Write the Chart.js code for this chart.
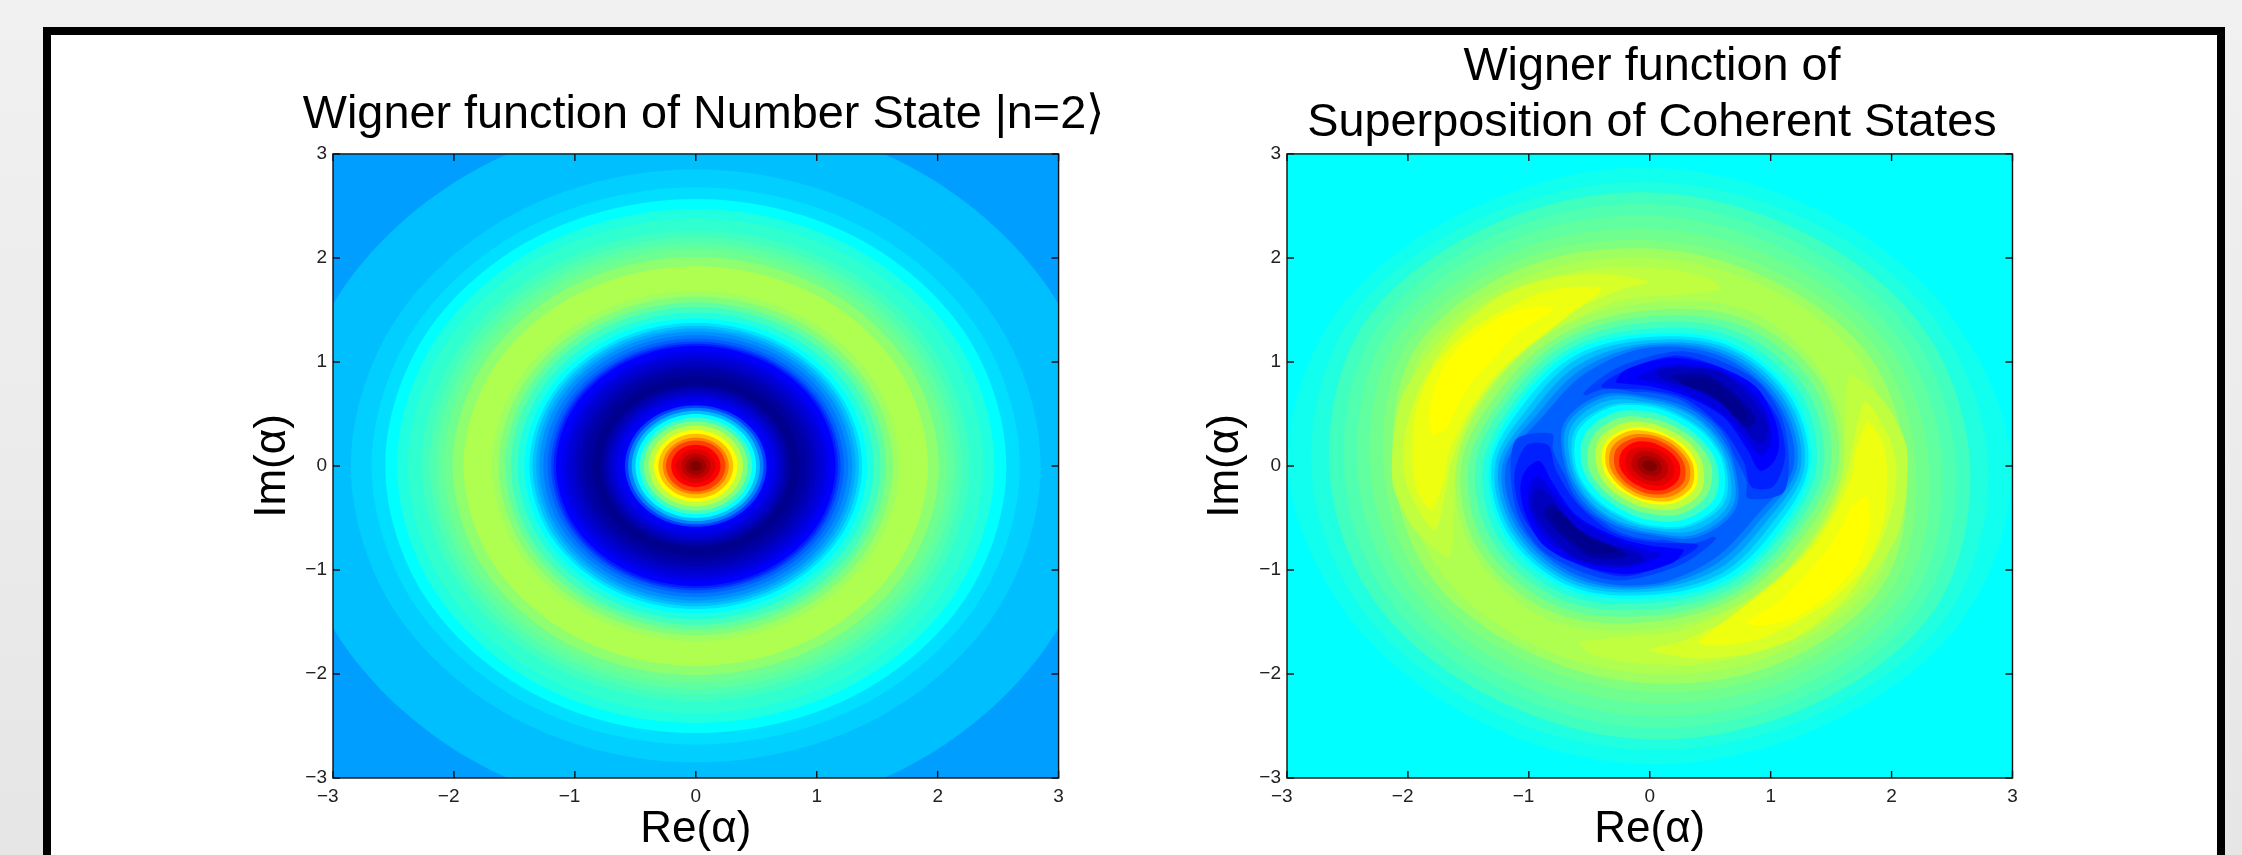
<!DOCTYPE html>
<html>
<head>
<meta charset="utf-8">
<title>Wigner functions</title>
<script src="https://cdn.jsdelivr.net/npm/chart.js@4/dist/chart.umd.js"></script>
<style>
  html, body { margin: 0; height: 100%; overflow: hidden; }
  body { width: 2242px; height: 855px; position: relative; background: linear-gradient(#f1f1f1, #e6e6e6); }
  #frame { position: absolute; left: 43px; top: 27px; width: 2166px; height: 900px; border: 8px solid #000; background: #fff; }
  canvas { position: absolute; top: 0; }
  #numberChart { left: 0; }
  #catChart { left: 1121px; }
</style>
</head>
<body>
<div id="frame"></div>
<canvas id="numberChart" width="1407" height="855"></canvas>
<canvas id="catChart" width="1062" height="855"></canvas>
<script>
const tickValues = [-3, -2, -1, 0, 1, 2, 3];
const tickLabels = ["\u22123", "\u22122", "\u22121", "0", "1", "2", "3"];
const xAxisTitle = "Re(\u03b1)";
const yAxisTitle = "Im(\u03b1)";
const numberTitle = "Wigner function of Number State |n=2\u27e9";
const catTitle = ["Wigner function of", "Superposition of Coherent States"];

// directions (degrees) the contour radii were read along
const ringAngles = [0, 30, 60, 90, 120, 150, 180, 210, 240, 270, 300, 330];

// left panel: circular contours, outermost first
const numberBackground = "#009fff";
const numberRadii = [
  3.38, 2.852, 2.68, 2.568, 2.47, 2.38, 2.265, 2.2, 2.143, 2.08, 2.01, 1.92,
  1.685, 1.63, 1.575, 1.528, 1.473, 1.418, 1.376, 1.349, 1.321, 1.294, 1.26, 1.225,
  1.197, 1.176, 1.156, 1.11, 1.075, 1.04, 1.0, 0.96, 0.92, 0.86,
  0.78, 0.755, 0.73, 0.705, 0.68, 0.655, 0.61, 0.585, 0.56, 0.53, 0.50,
  0.465, 0.43, 0.39, 0.345, 0.31, 0.273, 0.246, 0.204, 0.163, 0.121, 0.086, 0.047,
];
const numberColours = [
  "#00bfff", "#00cfff", "#00dfff", "#00ffff", "#20ffdf", "#30ffcf", "#40ffbf", "#50ffaf", "#60ff9f", "#70ff8f", "#8fff70", "#afff50",
  "#9fff60", "#80ff7f", "#60ff9f", "#40ffbf", "#20ffdf", "#00ffff", "#00dfff", "#00c0ff", "#00a8ff", "#0090ff", "#0078ff", "#0060ff",
  "#0040ff", "#0020ff", "#0000ff", "#0000ef", "#0000df", "#0000cf", "#0000bf", "#0000af", "#00009f", "#00008f",
  "#00009f", "#0000af", "#0000bf", "#0000cf", "#0000df", "#0000ef", "#0000ff", "#0040ff", "#0080ff", "#00bfff", "#00ffff",
  "#40ffbf", "#80ff7f", "#bfff40", "#ffff00", "#ffbf00", "#ff8000", "#ff4000", "#ff0000", "#df0000", "#bf0000", "#9f0000", "#800000",
];

// right panel: the picture repeats under a half turn, so half of each contour is listed
const catBackground = "#00ffff";

// radii at 0, 30, 60, 90, 120, 150 degrees
const catOuterRadii = [
  [2.99, 2.88, 2.83, 2.87, 2.88, 2.98],
  [2.80, 2.75, 2.70, 2.73, 2.76, 2.85],
  [2.65, 2.62, 2.58, 2.63, 2.66, 2.73],
  [2.53, 2.51, 2.47, 2.52, 2.56, 2.62],
  [2.42, 2.40, 2.36, 2.41, 2.46, 2.52],
  [2.31, 2.29, 2.25, 2.28, 2.35, 2.42],
  [2.20, 2.19, 2.14, 2.17, 2.26, 2.32],
  [2.12, 2.10, 2.05, 2.09, 2.18, 2.24],
  [2.03, 2.01, 1.97, 2.00, 2.09, 2.17],
];
const catOuterColours = ["#10ffef", "#20ffdf", "#40ffbf", "#50ffaf", "#60ff9f", "#70ff8f", "#80ff7f", "#9fff60", "#afff50"];

// yellow crescents, upper left one; the lower right one is its half turn
const catYellowLobes = [
  [[0.58, 1.70], [0.50, 1.80], [0.17, 1.89], [-0.38, 1.91], [-0.94, 1.78], [-1.35, 1.57], [-1.76, 1.17], [-2.04, 0.69], [-2.12, 0.28], [-2.12, -0.2], [-1.95, -0.6], [-1.66, -0.88], [-1.62, -0.55], [-1.60, 0], [-1.43, 0.56], [-1.13, 1.01], [-0.8, 1.30], [-0.25, 1.59], [0.28, 1.65]],
  [[0, 1.77], [-0.38, 1.85], [-0.80, 1.81], [-1.21, 1.65], [-1.62, 1.27], [-1.90, 0.76], [-2.02, 0.34], [-2.04, 0], [-1.97, -0.3], [-1.78, -0.62], [-1.68, -0.2], [-1.65, 0], [-1.51, 0.44], [-1.29, 0.82], [-0.96, 1.2], [-0.63, 1.49], [-0.25, 1.69]],
  [[-0.40, 1.70], [-0.66, 1.72], [-0.94, 1.65], [-1.46, 1.33], [-1.79, 0.95], [-1.94, 0.50], [-1.96, 0], [-1.92, -0.25], [-1.80, -0.42], [-1.70, -0.12], [-1.67, 0.1], [-1.52, 0.48], [-1.29, 0.86], [-0.98, 1.17], [-0.68, 1.44]],
  [[-0.80, 1.51], [-0.96, 1.53], [-1.24, 1.43], [-1.51, 1.21], [-1.71, 0.95], [-1.80, 0.66], [-1.82, 0.47], [-1.80, 0.30], [-1.68, 0.37], [-1.60, 0.56], [-1.46, 0.82], [-1.29, 1.04], [-1.07, 1.30]],
];
const catYellowColours = ["#bfff40", "#d7ff28", "#efff10", "#ffff00"];

// edge of the blue basin, radii at 0, 30, 60, 90, 120, 150 degrees
const catBasinRadii = [
  [1.60, 1.68, 1.70, 1.57, 1.52, 1.50],
  [1.56, 1.63, 1.62, 1.50, 1.46, 1.44],
  [1.50, 1.56, 1.55, 1.44, 1.41, 1.38],
  [1.44, 1.49, 1.48, 1.38, 1.36, 1.33],
  [1.38, 1.43, 1.42, 1.32, 1.31, 1.28],
  [1.33, 1.37, 1.36, 1.27, 1.27, 1.24],
  [1.31, 1.34, 1.33, 1.24, 1.23, 1.20],
  [1.28, 1.31, 1.30, 1.21, 1.19, 1.15],
  [1.25, 1.28, 1.27, 1.18, 1.14, 1.10],
  [1.22, 1.25, 1.24, 1.16, 1.09, 1.05],
  [1.19, 1.22, 1.21, 1.14, 1.04, 1.00],
];
const catBasinColours = ["#9fff60", "#80ff7f", "#60ff9f", "#40ffbf", "#20ffdf", "#00ffff", "#00dfff", "#00bfff", "#009fff", "#0080ff", "#0060ff"];

// dark crescents, upper right one; the lower left one is its half turn
const catBlueLobes = [
  [[-0.55, 0.70], [-0.25, 0.955], [0.30, 1.10], [0.85, 0.85], [1.08, 0.50], [1.15, 0.08], [1.10, -0.26], [0.81, -0.31], [0.80, -0.15], [0.70, 0.09], [0.52, 0.38], [0.28, 0.62], [-0.03, 0.71], [-0.47, 0.67]],
  [[-0.4, 0.76], [-0.2, 0.92], [0.25, 1.06], [0.8, 0.82], [1.05, 0.48], [1.12, 0.1], [1.02, -0.2], [0.84, -0.2], [0.78, 0.03], [0.6, 0.36], [0.3, 0.64], [-0.02, 0.73]],
  [[-0.28, 0.81], [-0.19, 0.93], [0.19, 1.04], [0.58, 0.95], [0.88, 0.76], [1.03, 0.46], [1.07, 0.2], [1.02, 0.03], [0.91, -0.045], [0.81, 0.15], [0.61, 0.47], [0.30, 0.67], [0.03, 0.76], [-0.19, 0.79]],
  [[-0.1, 0.85], [0.15, 0.97], [0.55, 0.93], [0.85, 0.72], [0.99, 0.44], [1.0, 0.2], [0.92, 0.1], [0.8, 0.25], [0.6, 0.5], [0.3, 0.70], [0.05, 0.80]],
  [[0.055, 0.91], [0.25, 0.955], [0.58, 0.90], [0.80, 0.70], [0.97, 0.41], [0.94, 0.22], [0.84, 0.27], [0.66, 0.54], [0.39, 0.73], [0.11, 0.83]],
  [[0.18, 0.86], [0.47, 0.88], [0.72, 0.68], [0.88, 0.45], [0.80, 0.37], [0.60, 0.60], [0.36, 0.75]],
  [[0.25, 0.81], [0.47, 0.84], [0.72, 0.63], [0.81, 0.47], [0.74, 0.44], [0.52, 0.68], [0.33, 0.76]],
];
const catBlueColours = ["#0040ff", "#0020ff", "#0000ff", "#0000df", "#0000bf", "#00009f", "#00008f"];

// central peak, radii at 0, 30, 60, 90, 120, 150 degrees
const catPeakRadii = [
  [0.72, 0.68, 0.66, 0.68, 0.84, 0.86],
  [0.70, 0.65, 0.64, 0.66, 0.79, 0.82],
  [0.68, 0.62, 0.61, 0.64, 0.76, 0.79],
  [0.65, 0.60, 0.59, 0.61, 0.72, 0.75],
  [0.63, 0.57, 0.55, 0.59, 0.67, 0.71],
  [0.61, 0.55, 0.53, 0.57, 0.65, 0.68],
  [0.56, 0.50, 0.48, 0.52, 0.59, 0.62],
  [0.51, 0.45, 0.43, 0.46, 0.53, 0.55],
  [0.44, 0.40, 0.38, 0.41, 0.47, 0.49],
  [0.39, 0.35, 0.33, 0.36, 0.41, 0.43],
  [0.36, 0.32, 0.31, 0.33, 0.38, 0.40],
  [0.33, 0.29, 0.28, 0.30, 0.34, 0.36],
  [0.29, 0.26, 0.25, 0.27, 0.30, 0.32],
  [0.25, 0.22, 0.21, 0.23, 0.26, 0.27],
  [0.20, 0.18, 0.17, 0.18, 0.21, 0.22],
  [0.15, 0.13, 0.13, 0.14, 0.16, 0.16],
  [0.10, 0.09, 0.09, 0.09, 0.11, 0.11],
  [0.06, 0.05, 0.05, 0.05, 0.06, 0.06],
];
const catPeakColours = ["#0060ff", "#0080ff", "#00a0ff", "#00bfff", "#00dfff", "#00ffff", "#40ffbf", "#80ff7f", "#bfff40", "#ffff00", "#ffbf00", "#ff8000", "#ff4000", "#ff0000", "#df0000", "#bf0000", "#9f0000", "#800000"];

const FONT = '"Liberation Sans", Arial, sans-serif';

// repeat the first points at the end so the smoothed outline closes without a corner
function closeOutline(points) {
  return points.concat(points.slice(0, 3));
}

function radiiToPoints(radii) {
  return ringAngles.map((deg, i) => {
    const r = radii[i % radii.length];
    const a = deg * Math.PI / 180;
    return { x: r * Math.cos(a), y: r * Math.sin(a) };
  });
}

function contourDataset(points, colour, tension) {
  return {
    data: closeOutline(points),
    showLine: true,
    fill: "shape",
    backgroundColor: colour,
    borderWidth: 0,
    pointRadius: 0,
    tension: tension,
    capBezierPoints: false,
  };
}

function lobePoints(pairs, sign) {
  return pairs.map(([x, y]) => ({ x: sign * x, y: sign * y }));
}

function numberLayers() {
  return numberRadii.map((r, i) => contourDataset(radiiToPoints([r]), numberColours[i], 0.34));
}

function catLayers() {
  const layers = [];
  catOuterRadii.forEach((radii, i) => layers.push(contourDataset(radiiToPoints(radii), catOuterColours[i], 0.34)));
  catYellowLobes.forEach((pairs, i) => {
    layers.push(contourDataset(lobePoints(pairs, 1), catYellowColours[i], 0.25));
    layers.push(contourDataset(lobePoints(pairs, -1), catYellowColours[i], 0.25));
  });
  catBasinRadii.forEach((radii, i) => layers.push(contourDataset(radiiToPoints(radii), catBasinColours[i], 0.34)));
  catBlueLobes.forEach((pairs, i) => {
    layers.push(contourDataset(lobePoints(pairs, 1), catBlueColours[i], 0.3));
    layers.push(contourDataset(lobePoints(pairs, -1), catBlueColours[i], 0.3));
  });
  catPeakRadii.forEach((radii, i) => layers.push(contourDataset(radiiToPoints(radii), catPeakColours[i], 0.34)));
  return layers;
}

// background under the contours, box and inward ticks on all four sides
function plotFrame(background) {
  return {
    id: "plotFrame",
    beforeDatasetsDraw(chart) {
      const { ctx, chartArea: a } = chart;
      ctx.save();
      ctx.fillStyle = background;
      ctx.fillRect(a.left, a.top, a.right - a.left, a.bottom - a.top);
      ctx.restore();
    },
    afterDatasetsDraw(chart) {
      const { ctx, chartArea: a, scales } = chart;
      const len = 7;
      ctx.save();
      ctx.strokeStyle = "#111";
      ctx.lineWidth = 1.4;
      ctx.strokeRect(a.left, a.top, a.right - a.left, a.bottom - a.top);
      ctx.beginPath();
      tickValues.forEach((v) => {
        const x = scales.x.getPixelForValue(v);
        const y = scales.y.getPixelForValue(v);
        ctx.moveTo(x, a.top);
        ctx.lineTo(x, a.top + len);
        ctx.moveTo(x, a.bottom);
        ctx.lineTo(x, a.bottom - len);
        ctx.moveTo(a.left, y);
        ctx.lineTo(a.left + len, y);
        ctx.moveTo(a.right, y);
        ctx.lineTo(a.right - len, y);
      });
      ctx.stroke();
      ctx.restore();
    },
  };
}

function axisOptions(titleText, titlePadding, tickPadding, labelFor, fitSize) {
  return {
    type: "linear",
    min: tickValues[0],
    max: tickValues[tickValues.length - 1],
    grid: { display: false, drawTicks: false },
    border: { display: false },
    afterBuildTicks: (axis) => { axis.ticks = tickValues.map((v) => ({ value: v })); },
    afterFit: fitSize,
    ticks: {
      color: "#222",
      padding: tickPadding,
      maxRotation: 0,
      autoSkip: false,
      font: { family: FONT, size: 19 },
      callback: labelFor,
    },
    title: {
      display: true,
      text: titleText,
      color: "#000",
      padding: titlePadding,
      font: { family: FONT, size: 44, lineHeight: 1.15 },
    },
  };
}

// the negative x labels sit a little left of their ticks in the original
function xLabel(value) {
  const label = tickLabels[tickValues.indexOf(value)];
  return value < 0 ? label + "\u00a0\u00a0" : label;
}

function yLabel(value) {
  return tickLabels[tickValues.indexOf(value)];
}

function drawPanel(canvasId, cfg) {
  return new Chart(document.getElementById(canvasId), {
    type: "scatter",
    data: { datasets: cfg.layers.reverse() },
    plugins: [plotFrame(cfg.background)],
    options: {
      responsive: false,
      animation: false,
      events: [],
      plugins: {
        legend: { display: false },
        tooltip: { enabled: false },
        title: {
          display: true,
          text: cfg.title,
          color: "#000",
          padding: cfg.titlePad,
          font: { family: FONT, size: 46.8, weight: "normal", lineHeight: 1.2 },
        },
      },
      scales: {
        x: axisOptions(xAxisTitle, { top: 0, bottom: 0 }, 7, xLabel, (axis) => { axis.height = 77; }),
        y: axisOptions(yAxisTitle, { top: cfg.yTitlePad, bottom: 0 }, 6, yLabel, (axis) => { axis.width = cfg.yWidth; }),
        // empty axis on the right: fixes the plot's right edge and keeps the title centred on the canvas
        yPad: {
          axis: "y",
          position: "right",
          ticks: { display: false },
          grid: { display: false, drawTicks: false },
          border: { display: false },
          afterFit: (axis) => { axis.width = cfg.rightWidth; },
        },
      },
    },
  });
}

drawPanel("numberChart", {
  layers: numberLayers(),
  background: numberBackground,
  title: numberTitle,
  titlePad: { top: 87.5, bottom: 10.3 },
  rightWidth: 348.4,
  yWidth: 333,
  yTitlePad: 248,
});

drawPanel("catChart", {
  layers: catLayers(),
  background: catBackground,
  title: catTitle,
  titlePad: { top: 39, bottom: 2.6 },
  rightWidth: 170.5,
  yWidth: 166,
  yTitlePad: 80,
});
</script>
</body>
</html>
